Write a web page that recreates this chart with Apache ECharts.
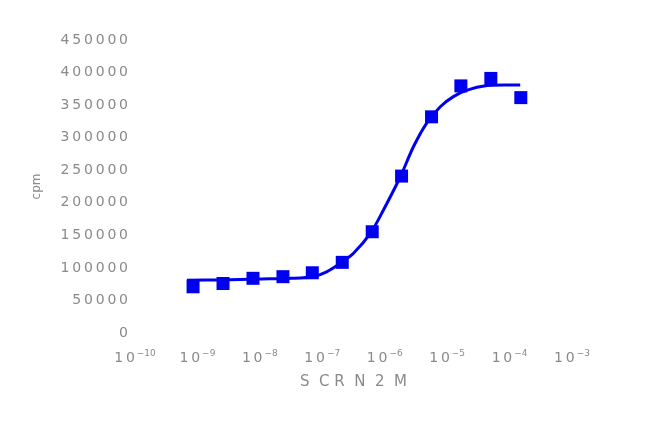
<!DOCTYPE html>
<html>
<head>
<meta charset="utf-8">
<script src="https://cdn.jsdelivr.net/npm/echarts@6/dist/echarts.min.js"></script>
<style>html,body{margin:0;padding:0;background:#fff}#c{width:650px;height:427px}</style>
</head>
<body>
<div id="c"></div>
<script>
// log10 concentration (M) of the measured points
var logConc = [-9.07, -8.59, -8.11, -7.63, -7.16, -6.68, -6.20, -5.73, -5.25, -4.78, -4.30, -3.82];
// measured response
var response = [71000, 76000, 84000, 86500, 92500, 108500, 155500, 241000, 332000, 379500, 391000, 361500];
// fitted curve
var curveX = [-9.17, -8.64, -8.00, -7.50, -7.15, -6.93, -6.71, -6.50, -6.23, -6.02, -5.75, -5.54, -5.33, -5.11, -4.90, -4.68, -4.36, -4.10, -3.83];
var curveY = [81000, 81500, 82900, 84000, 86500, 94000, 107000, 122500, 153000, 189000, 240000, 286000, 322000, 347500, 363000, 373000, 380000, 381000, 381000];
// axis ticks
var xTicks = [-10, -9, -8, -7, -6, -5, -4, -3];
var yMax = 450000, yStep = 50000;
var xTitle = 'S  C R  N  2  M';
var yTitle = 'cpm';

function spaced(s) { return String(s).split('').join('\u2009'); }

var chart = echarts.init(document.getElementById('c'), null, {renderer: 'canvas'});
var grey = '#8a8a8a';
var blue = '#0000f0';
chart.setOption({
  animation: false,
  grid: {left: 135, right: 78, top: 40, bottom: 94, containLabel: false},
  xAxis: {
    type: 'value', min: xTicks[0], max: xTicks[xTicks.length - 1], interval: 1,
    axisLine: {show: false}, axisTick: {show: false}, splitLine: {show: false},
    axisLabel: {
      margin: 16,
      formatter: function (v) { return '{b|1\u20090}{s|' + String(v).replace('-', '\u2212') + '}'; },
      rich: {
        b: {fontSize: 14, color: grey, fontFamily: 'DejaVu Sans', lineHeight: 18},
        s: {fontSize: 9, color: grey, fontFamily: 'DejaVu Sans', verticalAlign: 'top', padding: [0, 0, 8, 2]}
      }
    },
    name: xTitle, nameLocation: 'middle', nameGap: 42,
    nameTextStyle: {fontSize: 15, color: grey, fontFamily: 'DejaVu Sans'}
  },
  yAxis: {
    type: 'value', min: 0, max: yMax, interval: yStep,
    axisLine: {show: false}, axisTick: {show: false}, splitLine: {show: false},
    axisLabel: {
      margin: 7, color: grey, fontSize: 14, fontFamily: 'DejaVu Sans',
      formatter: function (v) { return spaced(v); }
    },
    name: yTitle, nameLocation: 'middle', nameGap: 92, nameRotate: 90,
    nameTextStyle: {fontSize: 12, color: grey, fontFamily: 'DejaVu Sans'}
  },
  series: [
    {
      type: 'line', smooth: 0.3, showSymbol: false, symbol: 'none',
      data: curveX.map(function (x, i) { return [x, curveY[i]]; }),
      lineStyle: {color: blue, width: 3}
    },
    {
      type: 'scatter', symbol: 'rect', symbolSize: 13,
      data: logConc.map(function (x, i) { return [x, response[i]]; }),
      itemStyle: {color: blue, opacity: 1}
    }
  ]
});
</script>
</body>
</html>
